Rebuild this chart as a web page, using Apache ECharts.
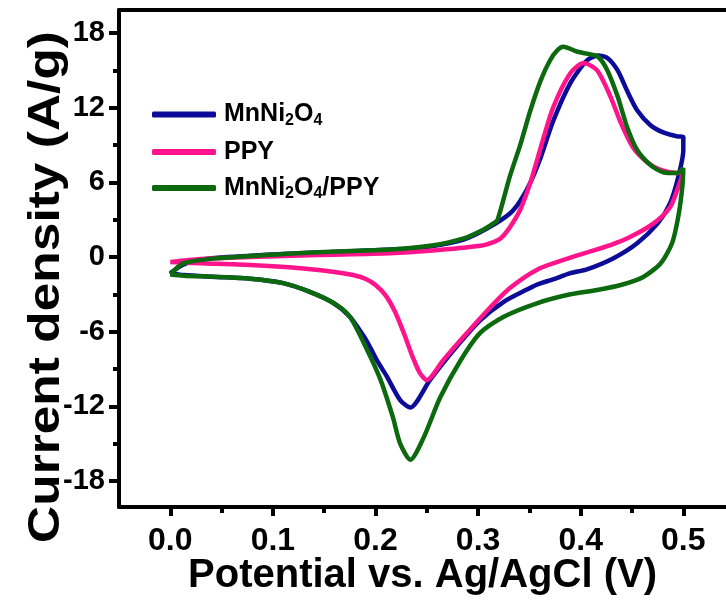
<!DOCTYPE html>
<html>
<head>
<meta charset="utf-8">
<script src="https://cdn.jsdelivr.net/npm/echarts@6/dist/echarts.min.js"></script>
<style>html,body{margin:0;padding:0;background:#fff;}#c{width:726px;height:608px;}</style>
</head>
<body>
<div id="c"></div>
<script>
// ---- Data (Potential V, Current density A/g) ----
const seriesNames = ['MnNi2O4', 'PPY', 'MnNi2O4/PPY'];
const xTitle = 'Potential vs. Ag/AgCl (V)';
const yTitle = 'Current density (A/g)';
const xTickLabels = [0.0, 0.1, 0.2, 0.3, 0.4, 0.5];
const xMinorTicks = [0.05, 0.15, 0.25, 0.35, 0.45];
const yTickLabels = [-18, -12, -6, 0, 6, 12, 18];
const yMinorTicks = [-15, -9, -3, 3, 9, 15];

const mnNi2O4 = [
  [0, -1.3], [0.013, -0.6], [0.03, -0.2], [0.046, -0.05], [0.078, 0.1], [0.11, 0.24],
  [0.156, 0.4], [0.221, 0.62], [0.253, 0.85], [0.286, 1.4], [0.309, 2.3], [0.331, 3.5],
  [0.341, 4.5], [0.351, 6.0], [0.361, 8.0], [0.373, 10.9], [0.39, 14.0], [0.406, 15.8], [0.417, 16.2],
  [0.426, 16.0], [0.436, 15.0], [0.445, 13.4], [0.455, 11.8], [0.468, 10.6], [0.481, 10.0],
  [0.494, 9.7], [0.5, 9.65],
  [0.5, 8.6], [0.495, 6.4], [0.487, 4.3], [0.475, 2.7], [0.455, 1.1], [0.432, -0.1],
  [0.406, -1.0], [0.39, -1.3], [0.373, -1.8], [0.358, -2.2], [0.348, -2.6], [0.325, -3.6],
  [0.302, -5.1], [0.276, -7.5], [0.253, -9.9], [0.234, -12.1], [0.224, -11.5], [0.211, -9.6],
  [0.202, -8.4], [0.195, -7.3], [0.188, -6.3], [0.175, -4.8], [0.159, -3.7], [0.136, -2.8],
  [0.11, -2.1], [0.078, -1.75], [0.046, -1.6], [0.013, -1.45], [0, -1.3]
];

const ppy = [
  [0, -0.4], [0.029, -0.16], [0.078, 0.0], [0.143, 0.16], [0.214, 0.3], [0.253, 0.5],
  [0.302, 0.9], [0.315, 1.2], [0.322, 1.5], [0.331, 2.4], [0.341, 3.8], [0.351, 6.0],
  [0.361, 8.8], [0.373, 12.0], [0.39, 14.8], [0.403, 15.6], [0.416, 15.0], [0.429, 12.9],
  [0.439, 10.8], [0.451, 8.8], [0.465, 7.6], [0.478, 7.0], [0.494, 6.75], [0.5, 6.8],
  [0.495, 5.6], [0.487, 4.0], [0.471, 2.7], [0.448, 1.6], [0.429, 0.96], [0.39, -0.05],
  [0.358, -1.0], [0.331, -2.5], [0.309, -4.3], [0.286, -6.4], [0.266, -8.3], [0.25, -9.9],
  [0.243, -9.3], [0.236, -8.0], [0.228, -6.2], [0.219, -4.4], [0.21, -3.1], [0.2, -2.25],
  [0.19, -1.75], [0.178, -1.45], [0.16, -1.2], [0.127, -0.9], [0.078, -0.64], [0.029, -0.5], [0, -0.4]
];

const mnNi2O4Ppy = [
  [0, -1.4], [0.013, -0.5], [0.046, -0.1], [0.11, 0.24], [0.156, 0.42], [0.214, 0.6],
  [0.253, 0.9], [0.286, 1.5], [0.305, 2.2], [0.315, 2.7], [0.319, 3.0], [0.331, 6.5],
  [0.341, 9.0], [0.351, 11.8], [0.361, 14.2], [0.37, 15.8], [0.377, 16.6], [0.383, 16.9],
  [0.397, 16.5], [0.409, 16.3], [0.417, 16.1], [0.426, 15.0], [0.436, 12.9], [0.445, 10.5],
  [0.455, 8.6], [0.468, 7.4], [0.481, 6.8], [0.494, 6.75], [0.5, 7.15],
  [0.499, 5.6], [0.495, 3.2], [0.489, 1.1], [0.478, -0.5], [0.461, -1.6], [0.439, -2.25],
  [0.416, -2.65], [0.39, -3.0], [0.358, -3.7], [0.325, -4.8], [0.302, -6.1], [0.283, -8.3],
  [0.263, -11.3], [0.247, -14.5], [0.234, -16.3], [0.224, -15.0], [0.217, -12.9], [0.205, -9.9],
  [0.192, -7.5], [0.175, -4.8], [0.159, -3.7], [0.136, -2.8], [0.11, -2.1], [0.078, -1.75],
  [0.046, -1.6], [0.013, -1.5], [0, -1.4]
];

const colors = ['#0c0c98', '#ff148c', '#0d690d'];
const FONT = '"Liberation Sans", Arial, sans-serif';

const chart = echarts.init(document.getElementById('c'), null, {renderer: 'canvas'});

function legendLabel(name) {
  if (name === 'MnNi2O4') return '{n|MnNi}{s|2}{n|O}{s|4}';
  if (name === 'MnNi2O4/PPY') return '{n|MnNi}{s|2}{n|O}{s|4}{n|/PPY}';
  return '{n|' + name + '}';
}

const axisLineStyle = {color: '#000', width: 4};

const option = {
  backgroundColor: '#fff',
  animation: false,
  grid: {left: 119, right: 0, top: 10, bottom: 101, outerBoundsMode: 'none', containLabel: false},
  graphic: [
    {
      type: 'text', x: 47, y: 287, rotation: Math.PI / 2, scaleX: 1.17, scaleY: 1,
      style: {text: yTitle, font: 'bold 44px "Liberation Sans", Arial, sans-serif',
        fill: '#000', align: 'center', verticalAlign: 'middle'}
    }
  ],
  legend: {
    orient: 'vertical', left: 147, top: 97, itemGap: 11,
    itemWidth: 64, itemHeight: 6, icon: 'roundRect',
    data: seriesNames,
    formatter: legendLabel,
    textStyle: {
      fontFamily: FONT, fontWeight: 'bold', color: '#000', padding: [0, 0, 0, 3],
      rich: {
        n: {fontFamily: FONT, fontWeight: 'bold', fontSize: 25, lineHeight: 28, color: '#000'},
        s: {fontFamily: FONT, fontWeight: 'bold', fontSize: 16, lineHeight: 14, verticalAlign: 'bottom', color: '#000'}
      }
    }
  },
  xAxis: [
    {
      type: 'value', position: 'bottom', min: -0.05, max: 0.5416,
      name: xTitle, nameLocation: 'middle', nameGap: 49, nameMoveOverlap: false,
      nameTextStyle: {fontFamily: FONT, fontWeight: 'bold', fontSize: 40, color: '#000'},
      axisLine: {show: true, onZero: false, lineStyle: axisLineStyle},
      axisTick: {show: true, inside: false, length: 9, lineStyle: {color: '#000', width: 4}, customValues: xTickLabels},
      axisLabel: {show: true, margin: 18, customValues: xTickLabels,
        formatter: v => v.toFixed(1),
        fontFamily: FONT, fontWeight: 'bold', fontSize: 32, color: '#000'},
      splitLine: {show: false}
    },
    {
      type: 'value', position: 'bottom', min: -0.05, max: 0.5416,
      axisLine: {show: false, onZero: false},
      axisTick: {show: true, inside: false, length: 6, lineStyle: {color: '#000', width: 4}, customValues: xMinorTicks},
      axisLabel: {show: false}, splitLine: {show: false}
    },
    {
      type: 'value', position: 'top', min: -0.05, max: 0.5416,
      axisLine: {show: true, onZero: false, lineStyle: axisLineStyle},
      axisTick: {show: false}, axisLabel: {show: false}, splitLine: {show: false}
    }
  ],
  yAxis: [
    {
      type: 'value', position: 'left', min: -20.1, max: 19.86,
      axisLine: {show: true, onZero: false, lineStyle: axisLineStyle},
      axisTick: {show: true, inside: false, length: 10, lineStyle: {color: '#000', width: 4}, customValues: yTickLabels},
      axisLabel: {show: true, margin: 14, customValues: yTickLabels,
        formatter: v => String(v),
        fontFamily: FONT, fontWeight: 'bold', fontSize: 29, color: '#000'},
      splitLine: {show: false}
    },
    {
      type: 'value', position: 'left', min: -20.1, max: 19.86,
      axisLine: {show: false, onZero: false},
      axisTick: {show: true, inside: false, length: 6, lineStyle: {color: '#000', width: 4}, customValues: yMinorTicks},
      axisLabel: {show: false}, splitLine: {show: false}
    }
  ],
  series: [
    {name: seriesNames[0], type: 'line', data: mnNi2O4, xAxisIndex: 0, yAxisIndex: 0,
     showSymbol: false, smooth: 0.25, lineStyle: {width: 4.5, color: colors[0]}, itemStyle: {color: colors[0]}, z: 3},
    {name: seriesNames[1], type: 'line', data: ppy, xAxisIndex: 0, yAxisIndex: 0,
     showSymbol: false, smooth: 0.25, lineStyle: {width: 4.5, color: colors[1]}, itemStyle: {color: colors[1]}, z: 4},
    {name: seriesNames[2], type: 'line', data: mnNi2O4Ppy, xAxisIndex: 0, yAxisIndex: 0,
     showSymbol: false, smooth: 0.25, lineStyle: {width: 4.5, color: colors[2]}, itemStyle: {color: colors[2]}, z: 5}
  ]
};
chart.setOption(option);
</script>
</body>
</html>
